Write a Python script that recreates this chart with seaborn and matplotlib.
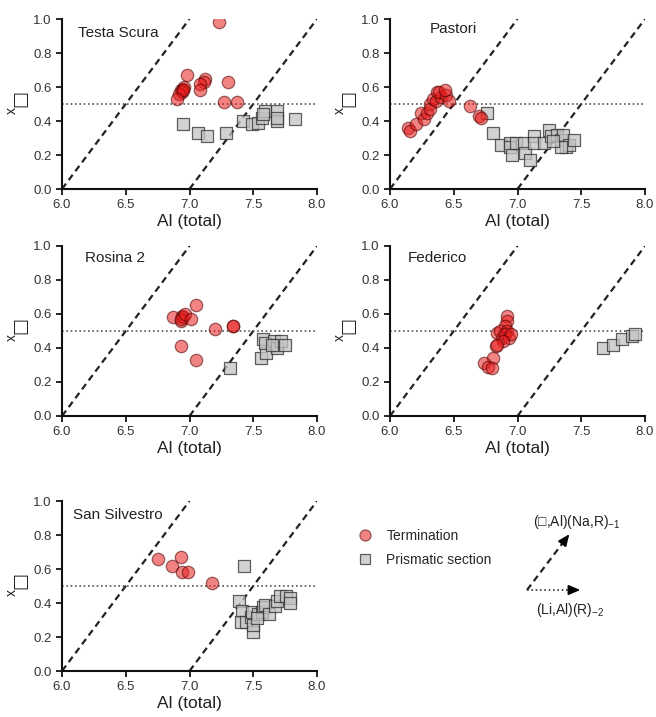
import numpy as np
import pandas as pd
import seaborn as sns
import matplotlib.pyplot as plt
from matplotlib.lines import Line2D

sns.set_style("ticks")
plt.rcParams['font.family'] = ['Liberation Sans', 'DejaVu Sans']
plt.rcParams['mathtext.fontset'] = 'custom'
plt.rcParams['mathtext.rm'] = 'Liberation Sans'

# --- data (Al total, x_vacancy) ---
ts_term_al = [7.23, 6.98, 7.12, 7.11, 7.08, 7.30, 7.08, 6.93, 6.95, 6.96, 6.94, 6.92, 6.95, 6.90, 7.27, 7.37]
ts_term_x = [0.98, 0.67, 0.65, 0.63, 0.62, 0.63, 0.58, 0.58, 0.59, 0.60, 0.57, 0.56, 0.58, 0.53, 0.51, 0.51]
ts_pris_al = [6.95, 7.07, 7.14, 7.29, 7.42, 7.49, 7.54, 7.57, 7.59, 7.58, 7.69, 7.69, 7.69, 7.83]
ts_pris_x = [0.38, 0.33, 0.31, 0.33, 0.40, 0.38, 0.39, 0.42, 0.46, 0.44, 0.46, 0.40, 0.42, 0.41]

pa_term_al = [6.14, 6.16, 6.20, 6.24, 6.27, 6.29, 6.31, 6.31, 6.34, 6.37, 6.36, 6.40, 6.385, 6.44, 6.46, 6.43, 6.63, 6.70, 6.71]
pa_term_x = [0.36, 0.34, 0.38, 0.45, 0.41, 0.45, 0.50, 0.47, 0.53, 0.57, 0.52, 0.54, 0.57, 0.55, 0.52, 0.58, 0.49, 0.43, 0.42]
pa_pris_al = [6.76, 6.81, 6.87, 6.94, 6.94, 6.96, 6.99, 7.05, 7.06, 7.10, 7.13, 7.13, 7.21, 7.25, 7.26, 7.31, 7.34, 7.36, 7.38, 7.40, 7.44, 7.34, 7.28]
pa_pris_x = [0.45, 0.33, 0.26, 0.27, 0.25, 0.20, 0.27, 0.27, 0.21, 0.17, 0.31, 0.27, 0.27, 0.35, 0.31, 0.32, 0.29, 0.32, 0.25, 0.26, 0.29, 0.25, 0.28]

ro_term_al = [6.87, 6.93, 6.94, 6.95, 6.93, 6.965, 7.01, 7.05, 7.20, 7.34, 7.345, 6.93, 7.05]
ro_term_x = [0.58, 0.56, 0.59, 0.58, 0.57, 0.60, 0.57, 0.65, 0.51, 0.53, 0.53, 0.41, 0.33]
ro_pris_al = [7.32, 7.56, 7.60, 7.58, 7.59, 7.66, 7.685, 7.69, 7.72, 7.75, 7.65]
ro_pris_x = [0.28, 0.34, 0.37, 0.45, 0.43, 0.44, 0.42, 0.40, 0.44, 0.42, 0.42]

fe_term_al = [6.92, 6.92, 6.90, 6.84, 6.86, 6.92, 6.88, 6.90, 6.93, 6.95, 6.89, 6.83, 6.84, 6.81, 6.74, 6.765, 6.80]
fe_term_x = [0.59, 0.56, 0.53, 0.49, 0.50, 0.50, 0.46, 0.48, 0.46, 0.48, 0.44, 0.41, 0.42, 0.34, 0.31, 0.29, 0.28]
fe_pris_al = [7.67, 7.75, 7.82, 7.90, 7.92]
fe_pris_x = [0.40, 0.42, 0.45, 0.47, 0.48]

ss_term_al = [6.75, 6.86, 6.93, 6.94, 6.99, 7.18]
ss_term_x = [0.66, 0.62, 0.67, 0.58, 0.58, 0.52]
ss_pris_al = [7.43, 7.39, 7.41, 7.40, 7.44, 7.48, 7.49, 7.50, 7.50, 7.54, 7.57, 7.58, 7.59, 7.62, 7.67, 7.685, 7.71, 7.76, 7.79, 7.79, 7.53]
ss_pris_x = [0.62, 0.41, 0.355, 0.29, 0.29, 0.32, 0.35, 0.23, 0.27, 0.335, 0.345, 0.375, 0.39, 0.335, 0.385, 0.41, 0.44, 0.44, 0.43, 0.40, 0.31]

sites = ["Testa Scura", "Pastori", "Rosina 2", "Federico", "San Silvestro"]
site_data = {
    "Testa Scura": (ts_term_al, ts_term_x, ts_pris_al, ts_pris_x),
    "Pastori": (pa_term_al, pa_term_x, pa_pris_al, pa_pris_x),
    "Rosina 2": (ro_term_al, ro_term_x, ro_pris_al, ro_pris_x),
    "Federico": (fe_term_al, fe_term_x, fe_pris_al, fe_pris_x),
    "San Silvestro": (ss_term_al, ss_term_x, ss_pris_al, ss_pris_x),
}

rows = []
for s in sites:
    ta, tx, pa, px = site_data[s]
    rows += [(s, "Termination", a, x) for a, x in zip(ta, tx)]
    rows += [(s, "Prismatic section", a, x) for a, x in zip(pa, px)]
df = pd.DataFrame(rows, columns=["site", "kind", "al", "xvac"])

# exchange vector guide lines (Al, x)
vec1_al = [6.0, 7.0]
vec2_al = [7.0, 8.0]
vec_x = [0.0, 1.0]

term_face = "#E91E1E"
term_edge = "#4A0000"
pris_face = "#C4C4C4"
pris_edge = "#2E2E2E"

fig = plt.figure(figsize=(6.56, 7.17), dpi=100)

W, H = 656, 717
col_left = [62, 390]
row_top = [19, 246, 501]
aw, ah = 255, 170
positions = [(0, 0), (1, 0), (0, 1), (1, 1), (0, 2)]
title_pos = {
    "Testa Scura": (0.063, 0.92),
    "Pastori": (0.155, 0.94),
    "Rosina 2": (0.09, 0.93),
    "Federico": (0.07, 0.93),
    "San Silvestro": (0.043, 0.92),
}

for s, (c, r) in zip(sites, positions):
    l = col_left[c] / W
    b = 1 - (row_top[r] + ah) / H
    ax = fig.add_axes([l, b, aw / W, ah / H])
    sub = df[df.site == s]

    ax.plot(vec1_al, vec_x, color="#222222", lw=1.6, ls=(0, (3, 2)), zorder=1)
    ax.plot(vec2_al, vec_x, color="#222222", lw=1.6, ls=(0, (3, 2)), zorder=1)
    ax.axhline(0.5, color="#555555", lw=1.2, ls=(0, (1, 1.6)), zorder=1)

    sns.scatterplot(data=sub[sub.kind == "Prismatic section"], x="al", y="xvac", ax=ax,
                    marker="s", s=80, color=pris_face, edgecolor=pris_edge,
                    linewidth=0.9, alpha=0.75, legend=False, zorder=3)
    sns.scatterplot(data=sub[sub.kind == "Termination"], x="al", y="xvac", ax=ax,
                    marker="o", s=80, color=term_face, edgecolor=term_edge,
                    linewidth=0.9, alpha=0.55, legend=False, zorder=4)

    ax.set_xlim(6.0, 8.0)
    ax.set_ylim(0.0, 1.0)
    ax.set_xticks([6.0, 6.5, 7.0, 7.5, 8.0])
    ax.set_yticks([0.0, 0.2, 0.4, 0.6, 0.8, 1.0])
    ax.set_xticklabels(["6.0", "6.5", "7.0", "7.5", "8.0"])
    ax.set_yticklabels(["0.0", "0.2", "0.4", "0.6", "0.8", "1.0"])
    ax.tick_params(labelsize=9.5, labelcolor="#333333", width=1.4, length=4, direction="out")
    for sp in ["left", "bottom"]:
        ax.spines[sp].set_linewidth(1.5)
        ax.spines[sp].set_color("#111111")
    sns.despine(ax=ax)
    ax.set_xlabel("Al (total)", fontsize=12.5, color="#222222", labelpad=2)
    ax.set_ylabel("")
    # y label: x with a vacancy box (subscript)
    ax.text(-0.196, 0.46, "x", transform=ax.transAxes, rotation=90, fontsize=10,
            ha="center", va="center", color="#222222")
    ax.text(-0.162, 0.535, "□", transform=ax.transAxes, rotation=90, fontsize=13,
            ha="center", va="center", color="#222222", family="DejaVu Sans")
    tx, ty = title_pos[s]
    ax.text(tx, ty, s, transform=ax.transAxes, fontsize=11, color="#222222",
            ha="left", va="center")

# legend
handles = [
    Line2D([], [], marker="o", ls="", markersize=8, markerfacecolor=term_face,
           markeredgecolor=term_edge, alpha=0.55, markeredgewidth=0.9),
    Line2D([], [], marker="s", ls="", markersize=7.5, markerfacecolor=pris_face,
           markeredgecolor=pris_edge, alpha=0.75, markeredgewidth=0.9),
]
fig.legend(handles, ["Termination", "Prismatic section"], loc="upper left",
           bbox_to_anchor=(346 / W, 1 - 523 / H), frameon=False, fontsize=10,
           handletextpad=0.5, labelspacing=0.75, borderaxespad=0)

# exchange vector key (pixel coordinates of the overlay)
ov = fig.add_axes([0, 0, 1, 1])
ov.set_xlim(0, W)
ov.set_ylim(H, 0)
ov.axis("off")
ov.plot([527, 565], [590, 540], color="#222222", lw=1.6, ls=(0, (3, 2)))
ov.annotate("", xy=(571, 532), xytext=(565, 540),
            arrowprops=dict(arrowstyle="-|>,head_length=0.7,head_width=0.3", color="black", lw=1.2))
ov.plot([527, 572], [590, 590], color="#333333", lw=1.2, ls=(0, (1, 1.6)))
ov.annotate("", xy=(583, 590), xytext=(572, 590),
            arrowprops=dict(arrowstyle="-|>,head_length=0.7,head_width=0.3", color="black", lw=1.2))
ov.text(577, 522, "(□,Al)(Na,R)$_{-1}$", fontsize=10, ha="center", va="center", color="#222222")
ov.text(570, 610, "(Li,Al)(R)$_{-2}$", fontsize=10, ha="center", va="center", color="#222222")

fig.savefig("out.png", dpi=100)
